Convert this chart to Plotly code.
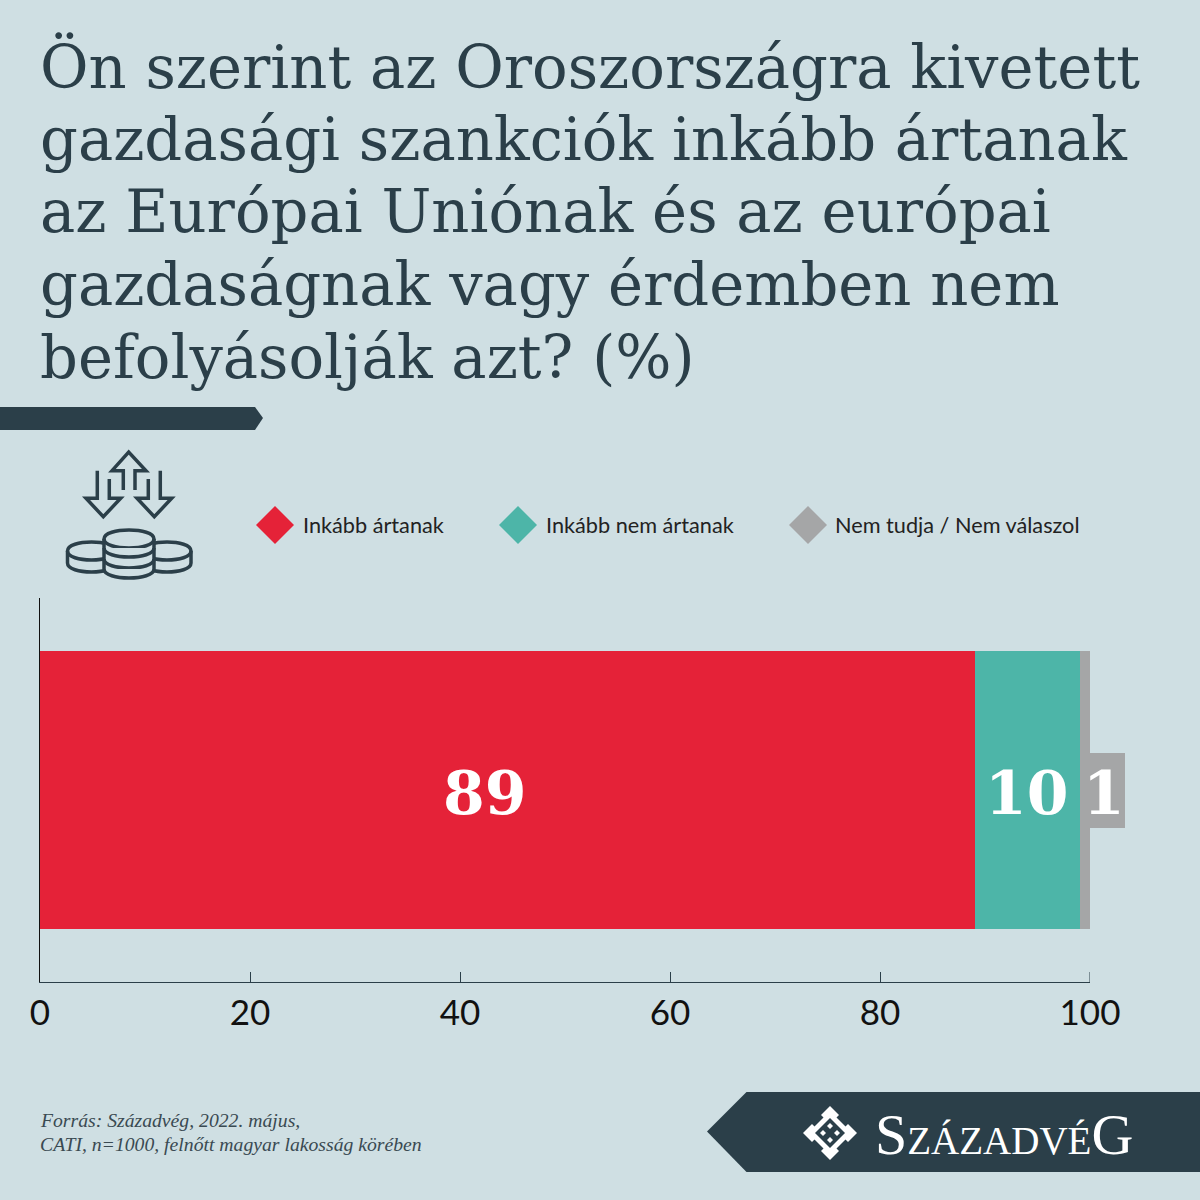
"""
Stacked bar: do the sanctions against Russia hurt the EU? (Századvég poster)
"""
import plotly.graph_objects as go

# data
categories = ["Válasz"]
series_names = ["Inkább ártanak", "Inkább nem ártanak", "Nem tudja / Nem válaszol"]
series_values = [89, 10, 1]
tick_values = [0, 20, 40, 60, 80, 100]
title_lines = [
    "Ön szerint az Oroszországra kivetett",
    "gazdasági szankciók inkább ártanak",
    "az Európai Uniónak és az európai",
    "gazdaságnak vagy érdemben nem",
    "befolyásolják azt? (%)",
]
source_lines = [
    "Forrás: Századvég, 2022. május,",
    "CATI, n=1000, felnőtt magyar lakosság körében",
]

# colours
BG = "#cfdfe3"
DARK = "#2b3f49"
colors = ["#e52238", "#4db5a8", "#a5a6a7"]

SIZE = 1200
LABEL_FONT = dict(family="DejaVu Serif", size=60, color="white", weight="bold")


def px(x):
    return x / SIZE


def py(y):
    return 1 - y / SIZE


def path_d(points, close=False):
    d = "M" + " L".join(f"{px(x):.5f},{py(y):.5f}" for x, y in points)
    return d + (" Z" if close else "")


def arc_d(cx, cy, rx, ry, lower=True):
    # half ellipse from left to right as a cubic curve
    k = 4 / 3
    sy = cy + ry * k if lower else cy - ry * k
    return (f"M{px(cx - rx):.5f},{py(cy):.5f} C{px(cx - rx):.5f},{py(sy):.5f} "
            f"{px(cx + rx):.5f},{py(sy):.5f} {px(cx + rx):.5f},{py(cy):.5f}")


def add_path(fig, d, fill=None, line_color=DARK, line_width=0):
    fig.add_shape(type="path", path=d, xref="paper", yref="paper",
                  fillcolor=fill if fill else "rgba(0,0,0,0)",
                  line=dict(color=line_color, width=line_width))


def diamond(cx, cy, r):
    return path_d([(cx - r, cy), (cx, cy - r), (cx + r, cy), (cx, cy + r)], True)


fig = go.Figure()

for name, value, color in zip(series_names, series_values, colors):
    fig.add_trace(go.Bar(
        y=categories, x=[value], name=name, orientation="h",
        marker=dict(color=color, line=dict(width=0)),
    ))

fig.update_layout(
    width=SIZE, height=SIZE,
    margin=dict(l=0, r=0, t=0, b=0, autoexpand=False),
    paper_bgcolor=BG, plot_bgcolor=BG,
    barmode="stack", bargap=0.277,
    showlegend=False,
    xaxis=dict(
        domain=[px(40), px(1090)], range=[0, 100], tickvals=tick_values,
        ticks="inside", ticklen=10, tickcolor=DARK, tickwidth=1,
        showline=True, linecolor=DARK, linewidth=1, showgrid=False, zeroline=False,
        tickfont=dict(family="Lato", size=35, color="#111111"),
    ),
    yaxis=dict(
        domain=[py(982), py(598)], showticklabels=False, ticks="",
        showline=True, linecolor="#111111", linewidth=1, showgrid=False, zeroline=False,
    ),
)

# plotly drops inside ticks at the very end of the axis, so the last one is a shape
fig.add_shape(type="line", xref="x", yref="paper", x0=tick_values[-1], x1=tick_values[-1],
              y0=py(982), y1=py(972), line=dict(color=DARK, width=1))

# value labels
fig.add_annotation(x=42.4, y=categories[0], text=str(series_values[0]), showarrow=False,
                   yshift=-3, font=LABEL_FONT)
fig.add_annotation(x=94, y=categories[0], text=str(series_values[1]), showarrow=False,
                   yshift=-3, font=LABEL_FONT)
add_path(fig, path_d([(1080, 753), (1125, 753), (1125, 828), (1080, 828)], True), fill=colors[2])
fig.add_annotation(x=px(1104), y=py(793), xref="paper", yref="paper", text=str(series_values[2]),
                   showarrow=False, xanchor="center", yanchor="middle", font=LABEL_FONT)

# title
for i, line in enumerate(title_lines):
    fig.add_annotation(x=px(38), y=py(67 + i * 72.5), xref="paper", yref="paper", text=line,
                       showarrow=False, xanchor="left", yanchor="middle",
                       font=dict(family="DejaVu Serif", size=59.2, color=DARK))

# top ribbon
add_path(fig, path_d([(0, 407), (255, 407), (263, 418), (255, 430), (0, 430)], True), fill=DARK)

# legend
legend_x = [275, 518, 808]
legend_text_x = [301, 544, 833]
for lx, tx, name, color in zip(legend_x, legend_text_x, series_names, colors):
    add_path(fig, diamond(lx, 525, 19), fill=color)
    fig.add_annotation(x=px(tx), y=py(525), xref="paper", yref="paper", text=name,
                       showarrow=False, xanchor="left", yanchor="middle",
                       font=dict(family="Lato", size=21.7, color="#222222"))

# icon: arrows
arrow_up = [(123.3, 490), (123.3, 470.7), (112, 470.7), (128.7, 452), (146, 470.7), (135, 470.7), (135, 490)]
arrow_left = [(97.3, 470.7), (97.3, 498.3), (86, 498.3), (103.3, 516.7), (120.7, 498.3), (109.3, 498.3), (109.3, 479)]
arrow_right = [(148.3, 479), (148.3, 498.3), (137, 498.3), (154.3, 516.7), (171.7, 498.3), (160.3, 498.3), (160.3, 470.7)]
for arrow in (arrow_up, arrow_left, arrow_right):
    add_path(fig, path_d(arrow), line_width=3.5)

# icon: coins
for cx in (91.5, 167):
    add_path(fig, arc_d(cx, 551, 24, 9, False), line_width=3.5)
    add_path(fig, arc_d(cx, 551, 24, 9, True), line_width=3.5)
    add_path(fig, arc_d(cx, 563, 24, 9, True), line_width=3.5)
    add_path(fig, path_d([(cx - 24, 551), (cx - 24, 563)]), line_width=3.5)
    add_path(fig, path_d([(cx + 24, 551), (cx + 24, 563)]), line_width=3.5)
add_path(fig, path_d([(104, 539), (154, 539), (154, 569), (104, 569)], True), fill=BG)
add_path(fig, arc_d(129, 539, 25, 9, False), fill=BG, line_width=3.5)
add_path(fig, arc_d(129, 539, 25, 9, True), fill=BG, line_width=3.5)
for cy in (548, 559, 569):
    add_path(fig, arc_d(129, cy, 25, 9, True), fill=BG, line_width=3.5)
add_path(fig, path_d([(104, 539), (104, 569)]), line_width=3.5)
add_path(fig, path_d([(154, 539), (154, 569)]), line_width=3.5)

# source
for y, line in zip((1120, 1144), source_lines):
    fig.add_annotation(x=px(38), y=py(y), xref="paper", yref="paper", text=line,
                       showarrow=False, xanchor="left", yanchor="middle",
                       font=dict(family="Liberation Serif", size=19.7, color="#3a4a52", style="italic"))

# logo ribbon
add_path(fig, path_d([(707, 1131.5), (746.5, 1092), (1200, 1092), (1200, 1172), (746.5, 1172)], True), fill=DARK)
cx, cy = 830, 1133
add_path(fig, diamond(cx, cy, 22), fill="white")
for dx, dy in ((0, -18), (-18, 0), (18, 0), (0, 18)):
    add_path(fig, diamond(cx + dx, cy + dy, 9), fill="white")
add_path(fig, diamond(cx, cy, 15), fill=DARK)
for dx, dy in ((0, -7), (-7, 0), (7, 0), (0, 7)):
    add_path(fig, diamond(cx + dx, cy + dy, 3), fill="white")
fig.add_annotation(
    x=px(873), y=py(1134), xref="paper", yref="paper", showarrow=False,
    xanchor="left", yanchor="middle",
    text='S<span style="font-size:39px">ZÁZADVÉ</span>G',
    font=dict(family="Liberation Serif", size=58, color="white"),
)

# drop the browser's default body margin so the 1200px figure fills the window
fig.write_html("out.html", config=dict(displayModeBar=False),
               post_script="document.body.style.margin='0';")
